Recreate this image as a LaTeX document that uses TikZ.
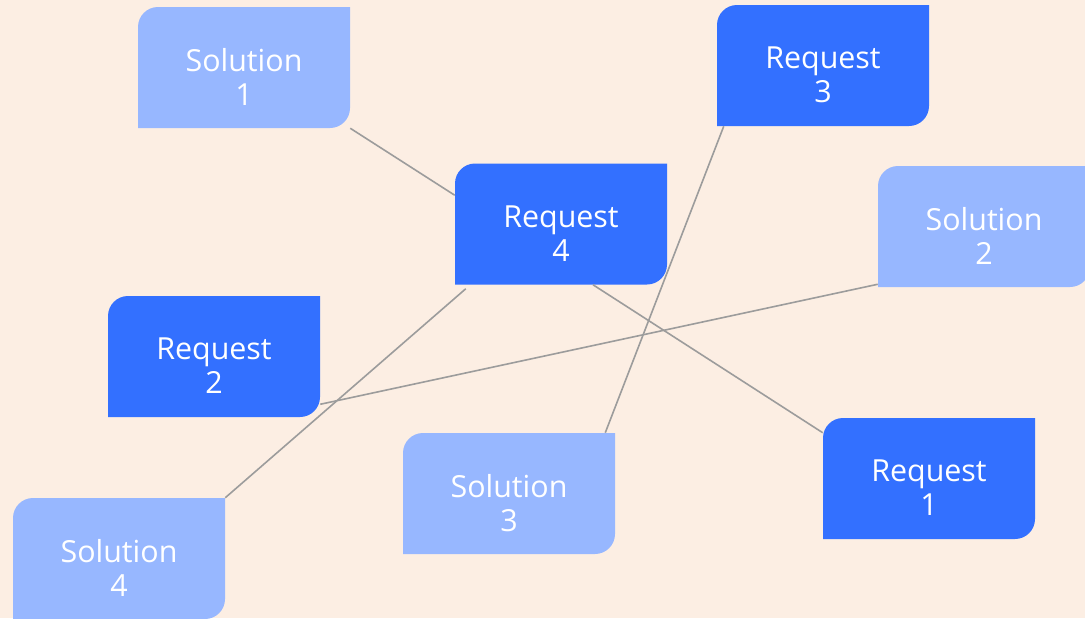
\documentclass[tikz,border=0pt]{standalone}
\usepackage{fontspec}
\setmainfont{Open Sans}
\definecolor{bg}{HTML}{FCEEE3}
\definecolor{reqblue}{HTML}{3370FF}
\definecolor{solblue}{HTML}{97B7FF}
\definecolor{conngray}{HTML}{9C9C9C}
\tikzset{
  roundbox/.style={
    minimum width=159pt, minimum height=90.75pt, inner sep=0pt,
    path picture={\fill[#1] (path picture bounding box.south west)
      -- ([yshift=-15pt]path picture bounding box.north west)
      arc[start angle=180,end angle=90,radius=15pt]
      -- (path picture bounding box.north east)
      -- ([yshift=15pt]path picture bounding box.south east)
      arc[start angle=0,end angle=-90,radius=15pt] -- cycle;}},
  reqbox/.style={roundbox=reqblue},
  solbox/.style={roundbox=solblue},
  boxtext/.style={text=white, align=center, yshift=-7pt,
    font=\fontsize{22.8}{25.5}\selectfont},
  conn/.style={draw=conngray, line width=1.2pt}
}
\begin{document}
\begin{tikzpicture}[x=0.75pt,y=-0.75pt]
\useasboundingbox (0,0) rectangle (1085,618);
\clip (0,0) rectangle (1085,618);
\fill[bg] (0,0) rectangle (1085,618);

\node[solbox, label={[boxtext]center:{Solution\\1}}] (s1) at (244,67.5) {};
\node[reqbox, label={[boxtext]center:{Request\\3}}] (r3) at (823,65.5) {};
\node[reqbox, label={[boxtext]center:{Request\\4}}] (r4) at (561,224) {};
\node[solbox, label={[boxtext]center:{Solution\\2}}] (s2) at (984,226.5) {};
\node[reqbox, label={[boxtext]center:{Request\\2}}] (r2) at (214,356.5) {};
\node[solbox, label={[boxtext]center:{Solution\\3}}] (s3) at (509,493.5) {};
\node[reqbox, label={[boxtext]center:{Request\\1}}] (r1) at (929,478.5) {};
\node[solbox, label={[boxtext]center:{Solution\\4}}] (s4) at (119,558.5) {};

\draw[conn] (s1.south east) -- ([yshift=-24pt]r4.north west);
\draw[conn] ([xshift=5.25pt]r3.south west) -- ([xshift=-7.5pt]s3.north east);
\draw[conn] ([xshift=24pt]r4.south) -- ([yshift=-11.25pt]r1.north west);
\draw[conn] ([xshift=8.25pt,yshift=-3pt]r4.south west) -- (s4.north east);
\draw[conn] ([yshift=2.25pt]s2.south west) -- ([yshift=9.75pt]r2.south east);
\end{tikzpicture}
\end{document}
